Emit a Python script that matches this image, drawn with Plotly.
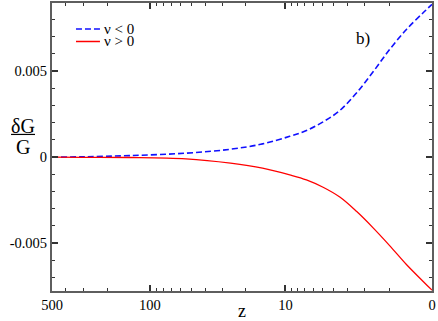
import numpy as np
import plotly.graph_objects as go

# redshift samples (axis is log10(1+z), reversed)
z = [500, 300, 140, 55, 26, 15, 9.25, 6.8, 4.94, 3.52, 2.44, 1.62, 1.0, 0.52, 0.16, 0]
dG_neg = [0, 0.00002, 0.00009, 0.00023, 0.00046, 0.00077, 0.00121, 0.00155, 0.00205,
          0.00271, 0.00373, 0.00496, 0.00626, 0.00742, 0.00838, 0.00888]
dG_pos = [0, -0.00001, -0.00002, -0.0001, -0.00035, -0.00064, -0.00103, -0.00132, -0.00175,
          -0.00232, -0.00315, -0.00411, -0.00514, -0.00624, -0.00721, -0.00773]

x_ticks = [500, 100, 10, 0]
x_minor = [400, 300, 200, 90, 80, 70, 60, 50, 40, 30, 20, 9, 8, 7, 6, 5, 4, 3, 2, 1]
y_ticks = [-0.005, 0, 0.005]
y_ticktext = ["-0.005", "0", "0.005"]

serif = "Liberation Serif"
axcol = "#5e5e5e"
tkcol = "#333333"

onez = np.array(z) + 1.0

fig = go.Figure()
fig.add_trace(go.Scatter(x=onez, y=dG_neg, mode="lines", name="ν < 0",
                         line=dict(color="#1010ff", width=1.6, dash="6px,3px", shape="spline")))
fig.add_trace(go.Scatter(x=onez, y=dG_pos, mode="lines", name="ν > 0",
                         line=dict(color="#ff0000", width=1.3, shape="spline")))

fig.update_layout(
    width=438, height=321,
    margin=dict(l=52, r=6, t=3, b=30),
    plot_bgcolor="white", paper_bgcolor="white",
    showlegend=False,
    font=dict(family=serif, size=14.5, color="black"),
    xaxis=dict(
        type="log", range=[np.log10(501), 0], automargin=False,
        tickmode="array",
        tickvals=[v + 1 for v in x_ticks], ticktext=[str(v) for v in x_ticks],
        ticks="inside", ticklen=6, tickwidth=1.5, tickcolor=tkcol,
        minor=dict(tickmode="array", tickvals=[v + 1 for v in x_minor], ticks="inside",
                   ticklen=3, tickwidth=1, tickcolor=tkcol),
        showline=True, linecolor=axcol, linewidth=2, mirror="allticks",
        showgrid=False, zeroline=False,
        title=dict(text="z", font=dict(size=18), standoff=2),
    ),
    yaxis=dict(
        range=[-0.00778, 0.00896], automargin=False,
        tickmode="array",
        tickvals=y_ticks, ticktext=y_ticktext,
        ticks="inside", ticklen=6, tickwidth=1.5, tickcolor=tkcol,
        minor=dict(dtick=0.001, tick0=0, ticks="inside", ticklen=3,
                   tickwidth=1, tickcolor=tkcol),
        showline=True, linecolor=axcol, linewidth=2, mirror="allticks",
        showgrid=False, zeroline=False,
    ),
)

# y-axis label as a fraction dG/G
fig.add_annotation(text="δG", xref="paper", yref="paper", x=(23 - 52) / 380.3,
                   y=(291.5 - 126.5) / 288.8, xanchor="center", yanchor="middle",
                   showarrow=False, font=dict(size=20))
fig.add_annotation(text="G", xref="paper", yref="paper", x=(23 - 52) / 380.3,
                   y=(291.5 - 147) / 288.8, xanchor="center", yanchor="middle",
                   showarrow=False, font=dict(size=20))
fig.add_shape(type="line", xref="paper", yref="paper",
              x0=(11 - 52) / 380.3, x1=(35 - 52) / 380.3,
              y0=(291.5 - 134.5) / 288.8, y1=(291.5 - 134.5) / 288.8,
              line=dict(color="black", width=1.2))

# legend drawn by hand
leg = [("ν < 0", "#1010ff", "6px,3px", 28.7), ("ν > 0", "#ff0000", "solid", 41.3)]
for label, col, dash, ypix in leg:
    yp = (291.5 - ypix) / 288.8
    fig.add_shape(type="line", xref="paper", yref="paper",
                  x0=(76 - 52) / 380.3, x1=(100 - 52) / 380.3, y0=yp, y1=yp,
                  line=dict(color=col, width=1.5, dash=dash))
    fig.add_annotation(text=label, xref="paper", yref="paper", x=(102 - 52) / 380.3,
                       y=yp, xanchor="left", yanchor="middle", showarrow=False,
                       font=dict(size=15))

fig.add_annotation(text="b)", xref="paper", yref="paper", x=(363.5 - 52) / 380.3,
                   y=(291.5 - 38) / 288.8, xanchor="center", yanchor="middle",
                   showarrow=False, font=dict(size=17))

fig.write_html("out.html", config={"displayModeBar": False},
               post_script="document.body.style.margin='0';")
